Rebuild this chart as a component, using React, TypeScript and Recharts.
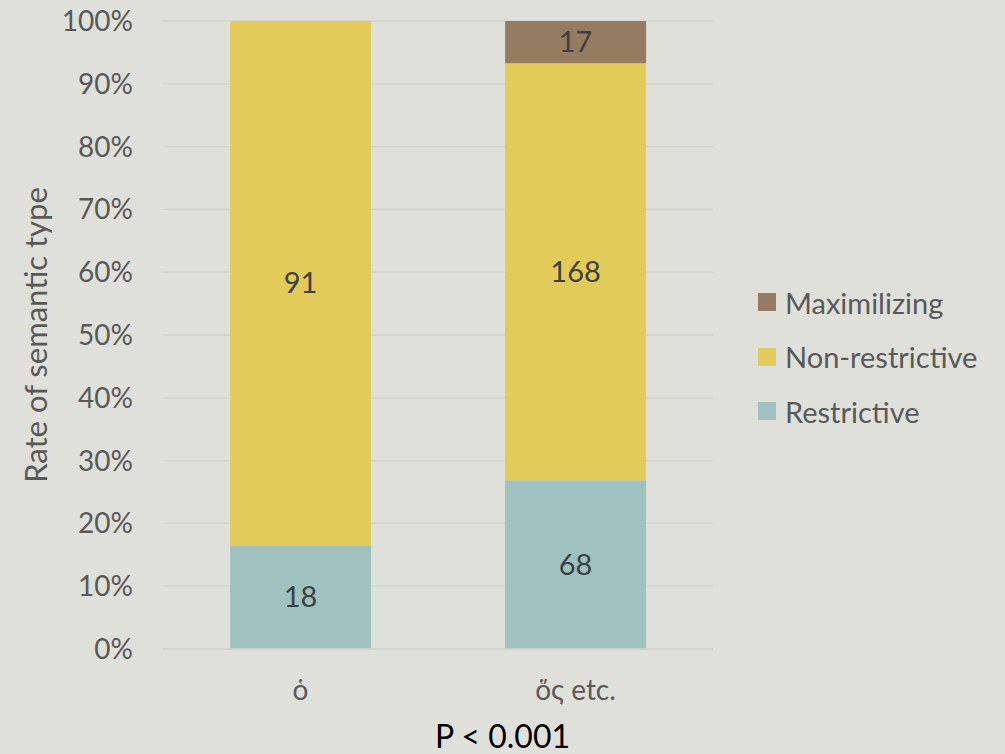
import React from "react";
import { BarChart, Bar, XAxis, YAxis, CartesianGrid, LabelList, Label } from "recharts";

const categories = ["ὁ", "ὅς etc."];
const restrictive = [18, 68];
const nonRestrictive = [91, 168];
const maximizing = [0, 17];
const yTicks = [0, 0.1, 0.2, 0.3, 0.4, 0.5, 0.6, 0.7, 0.8, 0.9, 1];
const pLabel = "P < 0.001";
const yTitle = "Rate of semantic type";

const series = [
  { key: "restrictive", name: "Restrictive", color: "#9fc1c0" },
  { key: "nonRestrictive", name: "Non-restrictive", color: "#e3cb5a" },
  { key: "maximizing", name: "Maximilizing", color: "#957b62" },
];

const data = categories.map((c, i) => ({
  cat: c,
  restrictive: restrictive[i],
  nonRestrictive: nonRestrictive[i],
  maximizing: maximizing[i],
}));

const FONT = "Lato, 'Open Sans', sans-serif";
const BG = "#e0e0da";
const GRAY = "#595959";

const YTitle = (props: any) => {
  const vb = props.viewBox || {};
  const x = vb.x + 35;
  const y = vb.y + vb.height / 2;
  return (
    <text x={x} y={y} transform={`rotate(-90, ${x}, ${y})`} textAnchor="middle" dominantBaseline="central"
      fill={GRAY} fontSize={31} fontFamily={FONT}>
      {yTitle}
    </text>
  );
};

export default function App() {
  const legendItems = [...series].reverse();
  return (
    <div style={{ position: "absolute", left: 0, top: 0, width: 1005, height: 754, background: BG, overflow: "hidden" }}>
      <BarChart
        width={1005}
        height={754}
        data={data}
        stackOffset="expand"
        barCategoryGap="24.4%"
        margin={{ top: 21, right: 292, bottom: 75, left: 0 }}
      >
        <CartesianGrid horizontal vertical={false} stroke="#d3d3ce" strokeWidth={1.3} />
        <XAxis
          dataKey="cat"
          axisLine={{ stroke: "#d3d3ce", strokeWidth: 1.3 }}
          tickLine={false}
          tickSize={0}
          tickMargin={31}
          tick={{ fill: GRAY, fontSize: 28, fontFamily: FONT }}
        />
        <YAxis
          width={163}
          domain={[0, 1]}
          ticks={yTicks}
          axisLine={false}
          tickLine={false}
          tickSize={0}
          tickMargin={30}
          tickFormatter={(v: number) => `${Math.round(v * 100)}%`}
          tick={{ fill: GRAY, fontSize: 28, fontFamily: FONT }}
        >
          <Label content={<YTitle />} />
        </YAxis>
        {series.map((s) => (
          <Bar key={s.key} dataKey={s.key} name={s.name} stackId="a" fill={s.color} isAnimationActive={false}>
            <LabelList
              dataKey={s.key}
              position="center"
              formatter={(v: any) => (v ? v : "")}
              style={{ fill: "#404040", fontSize: 29, fontFamily: FONT }}
            />
          </Bar>
        ))}
      </BarChart>
      <div style={{ position: "absolute", left: 758, top: 275, fontFamily: FONT }}>
        {legendItems.map((it) => (
          <div key={it.key} style={{ display: "flex", alignItems: "center", height: 54.5 }}>
            <span style={{ width: 18, height: 18, background: it.color, display: "inline-block", marginRight: 9 }} />
            <span style={{ fontSize: 29, color: GRAY }}>{it.name}</span>
          </div>
        ))}
      </div>
      <div style={{ position: "absolute", left: 0, width: 1005, top: 716, textAlign: "center", fontFamily: FONT, fontSize: 32, color: "#000", lineHeight: "40px" }}>
        {pLabel}
      </div>
    </div>
  );
}
